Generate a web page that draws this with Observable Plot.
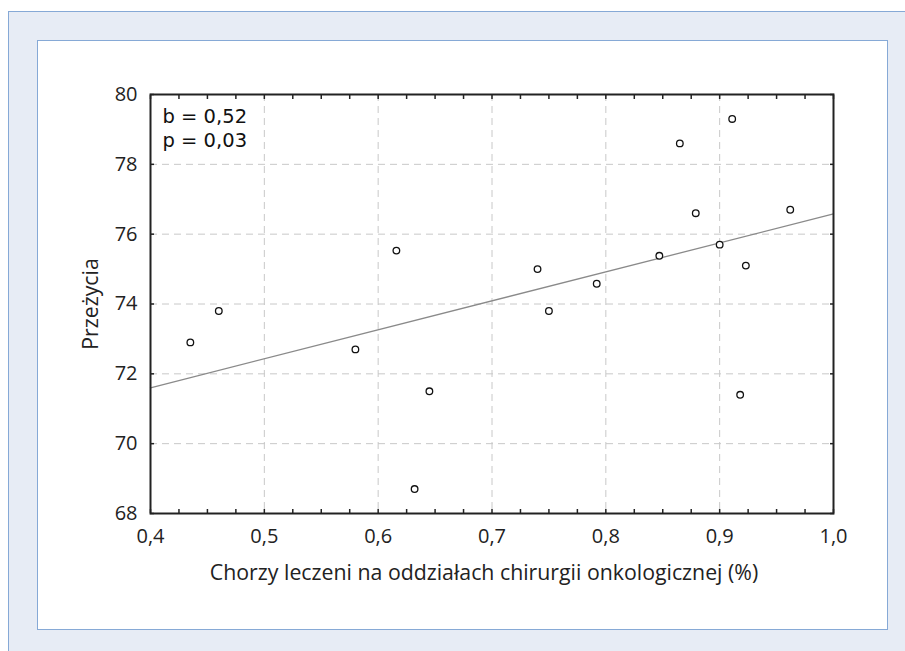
<!DOCTYPE html>
<html>
<head>
<meta charset="utf-8">
<script src="https://cdn.jsdelivr.net/npm/d3@7"></script>
<script src="https://cdn.jsdelivr.net/npm/@observablehq/plot@0.6"></script>
<style>
  html, body { margin: 0; padding: 0; background: #ffffff; width: 905px; height: 651px; overflow: hidden; }
  #outer { position: absolute; left: 8px; top: 11px; width: 920px; height: 700px; background: #e7ecf5; border: 1.5px solid #86a9d6; box-sizing: border-box; }
  #inner { position: absolute; left: 37px; top: 40px; width: 851px; height: 590px; background: #ffffff; border: 1.5px solid #86a9d6; box-sizing: border-box; }
  #chart { position: absolute; left: 37px; top: 40px; }
</style>
</head>
<body>
<div id="outer"></div>
<div id="inner"></div>
<div id="chart"></div>
<script>
// Data
const xValues = [0.435, 0.46, 0.58, 0.616, 0.645, 0.632, 0.74, 0.75, 0.792, 0.847, 0.865, 0.879, 0.90, 0.911, 0.923, 0.918, 0.962];
const yValues = [72.9, 73.8, 72.7, 75.53, 71.5, 68.7, 75.0, 73.8, 74.58, 75.38, 78.6, 76.6, 75.7, 79.3, 75.1, 71.4, 76.7];
const fitX = [0.4, 1.0];
const fitY = [71.6, 76.58];
const xTicks = [0.4, 0.5, 0.6, 0.7, 0.8, 0.9, 1.0];
const xMinor = d3.range(0, 25).map(i => 0.4 + i * 0.025);
const yTicks = [68, 70, 72, 74, 76, 78, 80];
const xLabel = "Chorzy leczeni na oddziałach chirurgii onkologicznej (%)";
const yLabel = "Przeżycia";
const annotationLines = ["b = 0,52", "p = 0,03"];

const points = xValues.map((x, i) => ({x, y: yValues[i]}));
const fit = fitX.map((x, i) => ({x, y: fitY[i]}));
const comma = d => d.toFixed(1).replace(".", ",");

const chart = Plot.plot({
  width: 850,
  height: 589,
  marginLeft: 113,
  marginTop: 54,
  marginRight: 54,
  marginBottom: 116,
  style: {fontFamily: "Open Sans", fontSize: "20px", color: "#222", background: "transparent"},
  x: {domain: [0.4, 1.0]},
  y: {domain: [68, 80]},
  marks: [
    Plot.gridX(xTicks.slice(1, -1), {stroke: "#c8c8c8", strokeOpacity: 1, strokeDasharray: "7,5", strokeWidth: 1}),
    Plot.gridY(yTicks.slice(1, -1), {stroke: "#c8c8c8", strokeOpacity: 1, strokeDasharray: "7,5", strokeWidth: 1}),
    Plot.axisX({ticks: xTicks, tickFormat: comma, tickSize: 0, tickPadding: 15, fontSize: 20, label: null}),
    Plot.text([xLabel], {frameAnchor: "bottom", dx: -8, dy: 66, lineAnchor: "bottom", fontSize: 21.3, fill: "#222"}),
    Plot.axisX({ticks: xMinor, tickSize: -4, text: null, label: null, strokeWidth: 1.5}),
    Plot.axisX({anchor: "top", ticks: xMinor, tickSize: -4, text: null, label: null, strokeWidth: 1.5}),
    Plot.axisY({ticks: yTicks, tickSize: -4, tickPadding: 17, fontSize: 20, label: null, strokeWidth: 1.5}),
    Plot.axisY({ticks: [], label: yLabel, fontSize: 21.3, labelAnchor: "center", labelOffset: 68, labelArrow: "none"}),
    Plot.axisY({anchor: "right", ticks: yTicks, tickSize: -4, text: null, label: null, strokeWidth: 1.5}),
    Plot.line(fit, {x: "x", y: "y", stroke: "#8a8a8a", strokeWidth: 1.3}),
    Plot.dot(points, {x: "x", y: "y", r: 3.3, stroke: "#111", fill: "#fff", strokeWidth: 1.3}),
    Plot.frame({stroke: "#222", strokeWidth: 2}),
    Plot.text([annotationLines[0]], {frameAnchor: "top-left", dx: 12, dy: 15, fontSize: 19.5, fontFamily: "DejaVu Sans", textAnchor: "start", lineAnchor: "top", fill: "#111"}),
    Plot.text([annotationLines[1]], {frameAnchor: "top-left", dx: 12, dy: 39, fontSize: 19.5, fontFamily: "DejaVu Sans", textAnchor: "start", lineAnchor: "top", fill: "#111"})
  ]
});
document.getElementById("chart").appendChild(chart);
</script>
</body>
</html>
